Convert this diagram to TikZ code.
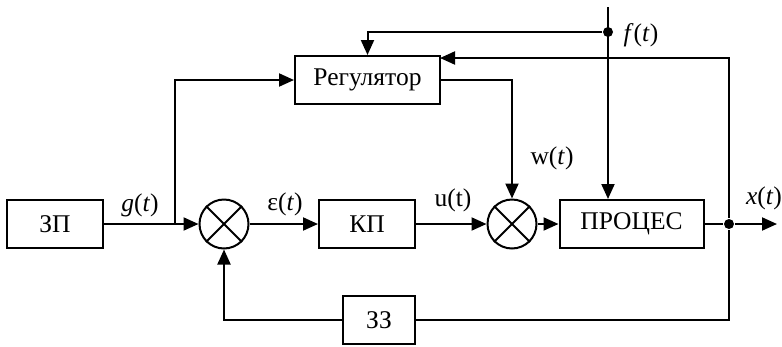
\documentclass[tikz,border=0pt]{standalone}
\usepackage{fontspec}
\setmainfont{Liberation Serif}
\usetikzlibrary{arrows.meta}

\tikzset{
  blok/.style={draw, line width=2pt, minimum height=48pt, inner sep=0pt},
  sumator/.style={draw, circle, line width=2pt, minimum size=49pt, inner sep=0pt},
  tochka/.style={circle, fill, inner sep=0pt, minimum size=10pt},
}

\begin{document}
\begin{tikzpicture}[x=1pt, y=-1pt, >={Triangle[length=15pt,width=13pt]}, line width=2pt, font=\fontsize{25.5}{30}\selectfont]
	\useasboundingbox (0,0) rectangle (782,346);
	% blokovi
	\node[blok, minimum width=96pt] (zp) at (55,224) {ЗП};
	\node[blok, minimum width=96pt] (kp) at (367,224) {КП};
	\node[blok, minimum width=145pt] (reg) at (367.5,80) {Регулятор};
	\node[blok, minimum width=144pt] (proc) at (631.5,224) {ПРОЦЕС};
	\node[blok, minimum width=72pt] (zz) at (379,320) {ЗЗ};
	\node[sumator] (s1) at (224,224) {};
	\node[sumator] (s2) at (512,224) {};
	\foreach \s in {s1,s2}
		\draw (\s.north west) -- (\s.south east) (\s.north east) -- (\s.south west);
	% tocke grananja
	\coordinate (b) at (175,224);
	\coordinate (ftop) at (608,7);
	\node[tochka] (fj) at (608,32) {};
	\node[tochka] (xj) at (729,224) {};
	\coordinate (xend) at (777,224);
	\coordinate (regin) at (440,58);
	% veze
	\draw (zp.east) -- (b);
	\draw[->] (b) -- (s1.west);
	\draw[->] (b) |- (reg.west);
	\draw[->] (s1.east) -- (kp.west);
	\draw[->] (kp.east) -- (s2.west);
	\draw[->] (s2.east) -- (proc.west);
	\draw[->] (reg.east) -| (s2.north);
	\draw[->] (ftop) -- (ftop |- proc.north);
	\draw[->] (fj) -| (reg.north);
	\draw (proc.east) -- (xj);
	\draw[->] (xj) -- (xend);
	\draw[->] (xj) |- (regin);
	\draw (xj) |- (zz.east);
	\draw[->] (zz.west) -| (s1.south);
	% oznake signala
	\node (lg) at (140,205) {\textit{g}(\textit{t})};
	\node (le) at (285,204) {ε(\textit{t})};
	\node (lu) at (453,200) {u(t)};
	\node (lw) at (552,158) {w(\textit{t})};
	\node (lf) at (641,35) {\textit{f}(\textit{t})};
	\node (lx) at (764,198) {\textit{x}(\textit{t})};
\end{tikzpicture}
\end{document}
